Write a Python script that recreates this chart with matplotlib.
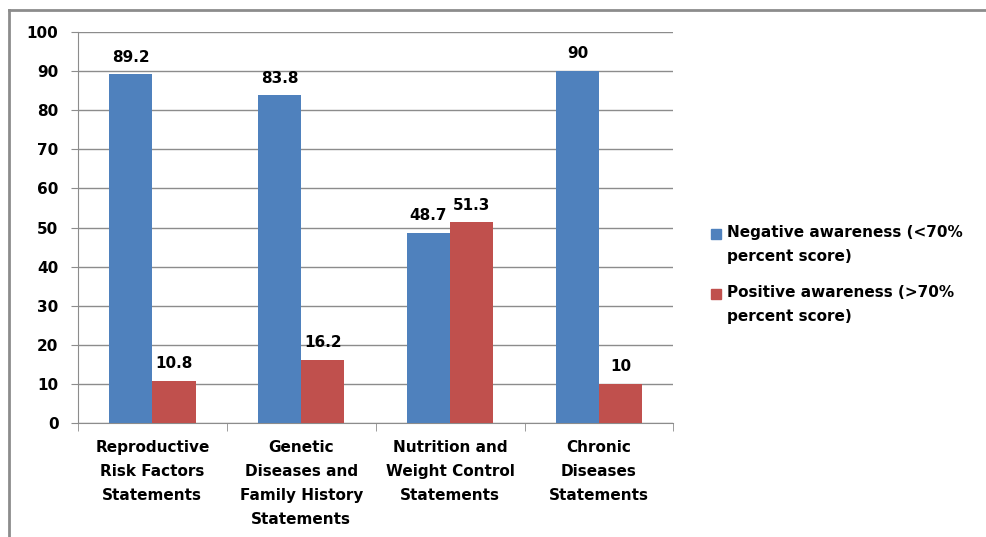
import matplotlib.pyplot as plt
import numpy as np
from matplotlib.lines import Line2D
from matplotlib.patches import Rectangle

plt.rcParams['font.family'] = ['DejaVu Sans']
plt.rcParams['font.weight'] = 'bold'

# ---- data ----
categories = [
    "Reproductive\nRisk Factors\nStatements",
    "Genetic\nDiseases and\nFamily History\nStatements",
    "Nutrition and\nWeight Control\nStatements",
    "Chronic\nDiseases\nStatements",
]
negative = [89.2, 83.8, 48.7, 90]
positive = [10.8, 16.2, 51.3, 10]
series_names = ["Negative awareness (<70%\npercent score)",
                "Positive awareness (>70%\npercent score)"]
colors = ["#4F81BD", "#C0504D"]
grid_col = "#8C8C8C"
fs = 11

W, H = 986, 537
fig = plt.figure(figsize=(W / 100, H / 100), dpi=100)
ax = fig.add_axes([0.079, 0.2123, 0.604, 0.7281])

x = np.arange(len(categories))
w = 0.29
b1 = ax.bar(x - w / 2, negative, w, color=colors[0], zorder=3)
b2 = ax.bar(x + w / 2, positive, w, color=colors[1], zorder=3)

for bars, vals in ((b1, negative), (b2, positive)):
    for r, v in zip(bars, vals):
        ax.annotate(f"{v:g}", (r.get_x() + r.get_width() / 2, v),
                    xytext=(0, 7), textcoords="offset points",
                    ha="center", va="bottom", fontsize=fs, fontweight="bold")

ax.set_ylim(0, 100)
ax.set_xlim(-0.5, len(categories) - 0.5)
ax.set_yticks(range(0, 101, 10))
ax.yaxis.grid(True, color=grid_col, linewidth=1, zorder=0)
ax.tick_params(axis="y", length=5, color=grid_col, pad=9, labelsize=fs)

# category ticks sit between the groups
ax.set_xticks(np.arange(-0.5, len(categories)), minor=True)
ax.set_xticks(x)
ax.set_xticklabels(categories, fontsize=fs, linespacing=1.75, va="top")
ax.tick_params(axis="x", which="major", length=0, pad=12)
ax.tick_params(axis="x", which="minor", length=6, color=grid_col)

for s in ("top", "right"):
    ax.spines[s].set_visible(False)
for s in ("left", "bottom"):
    ax.spines[s].set_color(grid_col)

# legend: colour square beside the first line of each two-line label
legend_rows = [234, 294]
for c, name, y in zip(colors, series_names, legend_rows):
    fig.add_artist(Rectangle((711 / W, 1 - (y + 5) / H), 10 / W, 10 / H,
                             color=c, transform=fig.transFigure))
    fig.text(727 / W, 1 - (y - 9) / H, name, fontsize=fs, fontweight="bold",
             ha="left", va="top", linespacing=1.75)

# outer chart frame
fig.add_artist(Line2D([9 / W, 1], [1 - 10 / H] * 2, color=grid_col, lw=2))
fig.add_artist(Line2D([9 / W] * 2, [0, 1 - 10 / H], color=grid_col, lw=2))

fig.savefig("out.png", dpi=100)
